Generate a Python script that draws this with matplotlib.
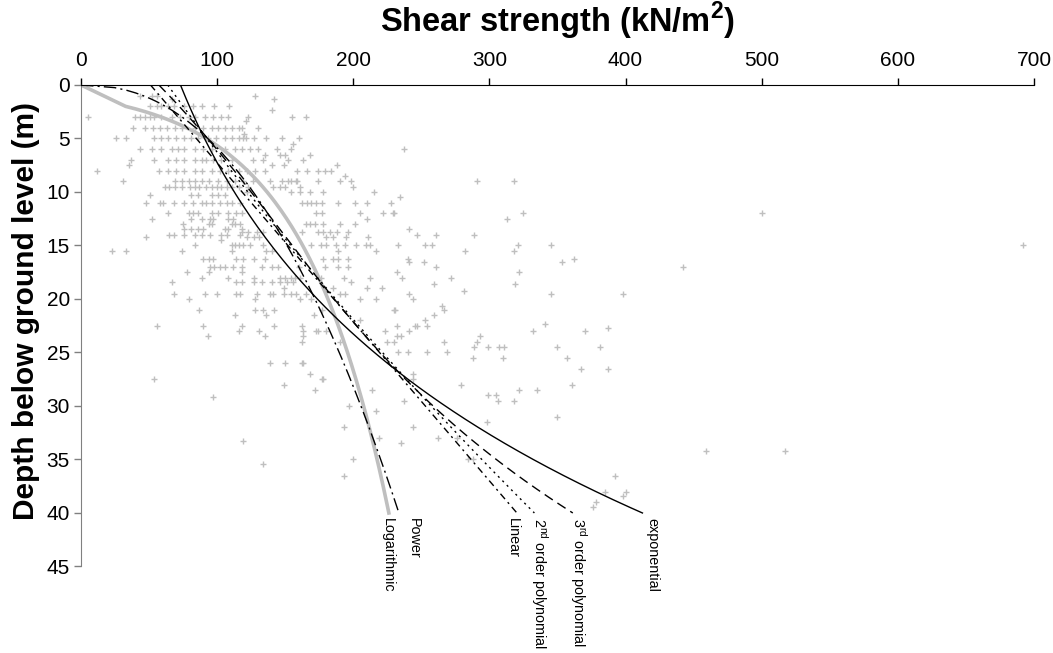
import matplotlib
matplotlib.use("Agg")
import matplotlib.pyplot as plt
import numpy as np

plt.rcParams['font.family'] = ['Liberation Sans', 'DejaVu Sans']
plt.rcParams['mathtext.fontset'] = 'custom'
plt.rcParams['mathtext.rm'] = 'Liberation Sans'
plt.rcParams['mathtext.bf'] = 'Liberation Sans:bold'

# field vane / lab results: shear strength (kN/m2) grouped by test depth (m)
depth_rows = [1.0, 1.3, 2.0, 2.3, 3.0, 3.4, 4.0, 4.6, 5.0, 5.5, 6.0, 6.5, 7.0, 7.5,
              8.0, 8.5, 9.0, 9.5, 10.0, 10.3, 10.5, 11.0, 12.0, 12.5, 13.0, 13.5,
              13.7, 14.0, 14.2, 14.5, 15.0, 15.5, 16.3, 16.5, 17.0, 17.5, 18.0,
              18.4, 18.6, 19.0, 19.3, 19.5, 20.0, 20.7, 21.0, 21.5, 22.0, 22.3,
              22.5, 22.7, 23.0, 23.5, 24.0, 24.5, 25.0, 25.5, 26.0, 26.5, 27.0,
              27.5, 28.0, 28.5, 29.0, 29.2, 29.5, 30.0, 30.5, 31.0, 31.5, 32.0,
              33.0, 33.3, 33.5, 34.2, 35.0, 35.4, 36.5, 38.0, 38.4, 39.0, 39.4]
shear_rows = [
    [128, 43, 52, 56],
    [142, 67],
    [51, 56, 59, 64, 68, 76, 82, 89, 98, 109],
    [140],
    [5, 40, 43, 47, 51, 54, 59, 67, 73, 79, 84, 91, 97, 103, 108, 123, 155, 165],
    [121],
    [38, 47, 53, 58, 63, 69, 74, 84, 90, 96, 101, 106, 111, 116, 118, 130],
    [120],
    [26, 33, 54, 59, 64, 70, 76, 81, 86, 93, 99, 106, 111, 116, 119, 121, 127, 136, 148, 160],
    [156],
    [237, 144, 43, 52, 59, 67, 71, 76, 84, 90, 96, 106, 113, 118, 124, 130, 154],
    [135, 146, 150, 168],
    [37, 54, 64, 70, 76, 84, 89, 92, 97, 103, 111, 126, 134, 152, 163],
    [35, 140, 149, 188],
    [11.5, 57, 64, 70, 76, 84, 89, 96, 102, 108, 116, 122, 128, 135, 159, 166, 174, 179, 184],
    [194],
    [31, 69, 74, 79, 84, 89, 94, 101, 107, 113, 119, 126, 139, 148, 152, 154, 158, 159,
     174, 190, 198, 291, 318],
    [62, 65, 69, 74, 80, 84, 87, 92, 96, 100, 103, 107, 111, 116, 123, 141, 146, 150, 161, 200],
    [122, 154, 161, 168, 178, 215],
    [51, 81, 86, 96, 101, 106],
    [234],
    [228, 48, 58, 60, 68, 76, 82, 89, 92, 96, 102, 107, 111, 117, 162, 166, 169, 173,
     177, 189, 201, 210],
    [230, 325, 500, 64, 79, 82, 86, 96, 101, 108, 114, 118, 173, 177, 205, 222, 229],
    [313, 52, 81, 89, 95, 97, 108, 112, 210],
    [75, 94, 96, 111, 113, 117, 165, 168, 172, 178, 190, 201],
    [241, 76, 81, 86, 90, 106, 108, 118],
    [118, 123, 129, 134, 162, 174, 178, 183, 188, 196],
    [247, 261, 289, 65, 68, 76, 84, 89, 95, 103, 107, 117],
    [48, 122, 127, 131, 180, 185, 195, 211],
    [103],
    [233, 253, 258, 321, 345, 692, 84, 111, 113, 116, 119, 124, 134, 169, 176, 180, 187,
     194, 202, 209, 212],
    [282, 318, 22.5, 33, 74, 111, 136, 140, 189, 217],
    [240, 362, 90, 94, 97, 114, 119, 127, 135, 178, 185, 189, 196],
    [241, 252, 353],
    [261, 442, 95, 98, 102, 106, 112, 118, 133, 140, 145, 160, 179, 189, 196],
    [232, 322, 78, 94, 118],
    [236, 272, 89, 108, 127, 146, 150, 154, 157, 161, 176, 193, 212],
    [67, 114, 118, 127, 133, 140, 146, 151, 156, 198],
    [259, 319],
    [149, 185, 210, 221],
    [281],
    [241, 345, 398, 68, 91, 100, 114, 117, 129, 139, 141, 149, 154, 158, 165, 190, 194],
    [244, 79, 128, 161, 169, 205, 217],
    [265],
    [230, 267, 87, 128, 134, 142, 177, 231],
    [259, 113, 136, 171],
    [253, 205],
    [341],
    [232, 245, 247, 254, 55.6, 90, 118, 142, 162],
    [387],
    [241, 332, 370, 173, 180, 223, 116, 131, 163, 174],
    [232, 293, 235, 93, 135, 163],
    [225, 230, 291, 162, 190, 267],
    [289, 299, 307, 311, 350, 381],
    [233, 240, 254, 269],
    [288, 310, 357],
    [163, 139, 150, 162],
    [367, 387],
    [168, 244],
    [178, 244, 53.6, 177],
    [279, 361, 149],
    [172, 214, 322, 335],
    [299, 305],
    [97],
    [237, 306, 318],
    [197],
    [217],
    [350],
    [298],
    [193, 244],
    [219, 262, 276],
    [119],
    [235],
    [459, 517],
    [200, 284, 288],
    [134],
    [193, 392],
    [385, 400],
    [398],
    [378],
    [376],
]

depth = np.concatenate([[d] * len(s) for d, s in zip(depth_rows, shear_rows)])
shear = np.concatenate([np.asarray(s, dtype=float) for s in shear_rows])

# points taken along each trendline (depth m, shear kN/m2)
lin_pts_d = [0, 22.9, 30.1, 40]
lin_pts_s = [51, 205, 254, 320]
poly2_pts_d = [0, 5, 22.9, 40]
poly2_pts_s = [64, 92, 207, 333]
poly3_pts_d = [0, 5, 23.2, 33.2, 40]
poly3_pts_s = [59, 90, 211, 283, 363]
exp_pts_d = [0, 17.8, 22.9, 40]
exp_pts_s = [73, 158, 197, 412]
pow_pts_d = [2.3, 22.9, 40]
pow_pts_s = [66, 183, 233]
log_pts_d = [1.87, 3.9, 11.4, 22.9, 40]
log_pts_s = [27.4, 76.4, 146, 192, 224]

zd = np.linspace(0, 40, 161)

lin = np.polyval(np.polyfit(lin_pts_d, lin_pts_s, 1), zd)
poly2 = np.polyval(np.polyfit(poly2_pts_d, poly2_pts_s, 2), zd)
poly3 = np.polyval(np.polyfit(poly3_pts_d, poly3_pts_s, 3), zd)
eb, ea = np.polyfit(exp_pts_d, np.log(exp_pts_s), 1)
expo = np.exp(ea) * np.exp(eb * zd)
pb, pa = np.polyfit(np.log(pow_pts_d), np.log(pow_pts_s), 1)
powr = np.exp(pa) * zd ** pb
la, lb = np.polyfit(np.log(log_pts_d), log_pts_s, 1)
log_d = np.concatenate([[0], np.arange(2, 40.01, 0.25)])
logc = np.where(log_d > 0, la * np.log(np.maximum(log_d, 1e-9)) + lb, 0)

fig = plt.figure(figsize=(10.53, 6.53), dpi=100)
ax = fig.add_axes([0.0769, 0.1325, 0.905, 0.7374])

ax.plot(shear, depth, '+', color='#BFBFBF', ms=5, mew=1.0, zorder=1)

ax.plot(logc, log_d, color='#BFBFBF', lw=2.6, zorder=2)
ax.plot(powr, zd, color='black', lw=1.0, dashes=(9, 3, 1.5, 3), zorder=3)
ax.plot(lin, zd, color='black', lw=1.0, dashes=(5, 3, 1.5, 3), zorder=3)
ax.plot(poly2, zd, color='black', lw=1.0, dashes=(1.5, 3), zorder=3)
ax.plot(poly3, zd, color='black', lw=1.0, dashes=(7, 4), zorder=3)
ax.plot(expo, zd, color='black', lw=1.0, zorder=3)

# curve names written downwards under the ends of the lines
end_labels = [
    (logc[-1] - 1, 'Logarithmic'),
    (powr[-1] + 11, 'Power'),
    (lin[-1] - 3, 'Linear'),
    (poly2[-1] + 4, '2$^{\\mathregular{nd}}$ order polynomial'),
    (poly3[-1] + 4, '3$^{\\mathregular{rd}}$ order polynomial'),
    (expo[-1] + 7, 'exponential'),
]
for x, txt in end_labels:
    ax.text(x, 40.45, txt, rotation=270, ha='center', va='top', fontsize=10.4)

ax.set_xlim(0, 700)
ax.set_ylim(45, 0)
ax.set_xticks(np.arange(0, 701, 100))
ax.set_yticks(np.arange(0, 46, 5))

ax.xaxis.tick_top()
ax.xaxis.set_label_position('top')
ax.spines['right'].set_visible(False)
ax.spines['bottom'].set_visible(False)
ax.spines['top'].set_color('black')
ax.spines['left'].set_color('#808080')
ax.tick_params(axis='x', direction='out', length=5, width=1, colors='black',
               labelsize=15, pad=6)
ax.tick_params(axis='y', direction='out', length=5, width=1, color='#808080',
               labelcolor='black', labelsize=15, pad=3)

ax.set_xlabel('Shear strength (kN/m$^{\\mathbf{2}}$)', fontsize=23.5, fontweight='bold')
ax.xaxis.set_label_coords(0.5, 1.11)
ax.set_ylabel('Depth below ground level (m)', fontsize=21.5, fontweight='bold')
ax.yaxis.set_label_coords(-0.043, 0.53)

fig.savefig('out.png', dpi=100)
